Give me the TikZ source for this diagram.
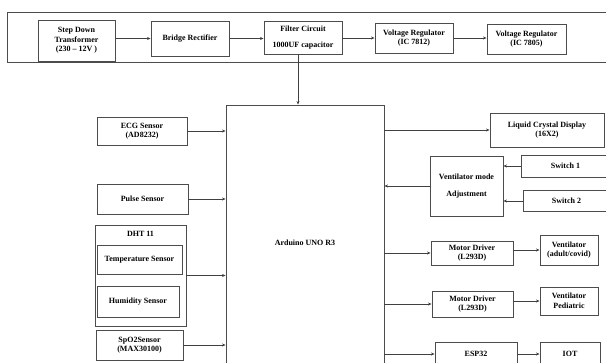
\documentclass[tikz,border=0pt]{standalone}
\usepackage{fontspec}
\setmainfont{Liberation Serif}
\usetikzlibrary{arrows.meta}
\begin{document}
\begin{tikzpicture}[x=1pt,y=-1pt,
  box/.style={draw=black!70,line width=0.9pt,rectangle,inner sep=0pt,align=center,
    font=\fontsize{8}{9.5}\selectfont\bfseries},
  conn/.style={draw=black!75,line width=0.8pt,-{Stealth[length=3.5pt,width=3pt]}}]
\useasboundingbox (0,0) rectangle (606,363);
\clip (0,0) rectangle (606,363);
% power supply frame
\node[box,minimum width=603,minimum height=50] (frame) at (308.5,37) {};
\node[box,minimum width=77,minimum height=41] (tr) at (76.5,40.5) {Step Down\\Transformer\\(230 -- 12V )};
\node[box,minimum width=78,minimum height=35] (br) at (190,38.5) {Bridge Rectifier};
\node[box,minimum width=78,minimum height=33] (fc) at (303,37.5) {Filter Circuit\\[7pt]1000UF capacitor};
\node[box,minimum width=78,minimum height=30] (vr1) at (414,38) {Voltage Regulator\\(IC 7812)};
\node[box,minimum width=79,minimum height=30] (vr2) at (526.5,39) {Voltage Regulator\\(IC 7805)};
\draw[conn] (tr.east |- br.west) -- (br.west);
\draw[conn] (br.east) -- (br.east -| fc.west);
\draw[conn] (fc.east |- vr1.west) -- (vr1.west);
\draw[conn] (vr1.east) -- (vr1.east -| vr2.west);
% Arduino
\node[box,minimum width=158,minimum height=275] (ard) at (305,242.5) {Arduino UNO R3};
\draw[conn] ([xshift=-5pt]fc.south) -- ([xshift=-5pt]fc.south |- ard.north);
% left sensors
\node[box,minimum width=90,minimum height=28] (ecg) at (142,131) {ECG Sensor\\(AD8232)};
\node[box,minimum width=91,minimum height=30] (pulse) at (142.5,199) {Pulse Sensor};
\node[box,minimum width=91,minimum height=101] (dht) at (140.5,275.5) {};
\node[font=\fontsize{8}{9.5}\selectfont\bfseries,inner sep=0pt] (dhtl) at (140.5,234) {DHT 11};
\node[box,minimum width=85,minimum height=29] (temp) at (139.5,259.5) {Temperature Sensor};
\node[box,minimum width=82,minimum height=31] (hum) at (138,301.5) {Humidity Sensor};
\node[box,minimum width=87,minimum height=30] (spo) at (139.5,345) {SpO2Sensor\\(MAX30100)};
\draw[conn] (ecg.east) -- (ecg.east -| ard.west);
\draw[conn] (pulse.east) -- (pulse.east -| ard.west);
\draw[conn] (dht.east) -- (dht.east -| ard.west);
\draw[conn] (spo.east) -- (spo.east -| ard.west);
% right side
\node[box,minimum width=114,minimum height=34] (lcd) at (547,130) {Liquid Crystal Display\\(16X2)};
\node[box,minimum width=73,minimum height=60] (vma) at (466.5,186) {Ventilator mode\\[8pt]Adjustment};
\node[box,minimum width=89,minimum height=22] (sw1) at (565.5,166) {Switch 1};
\node[box,minimum width=87,minimum height=21] (sw2) at (566.5,201) {Switch 2};
\node[box,minimum width=82,minimum height=24] (md1) at (472,253) {Motor Driver\\(L293D)};
\node[box,minimum width=58,minimum height=30] (v1) at (569,250) {Ventilator\\(adult/covid)};
\node[box,minimum width=81,minimum height=26] (md2) at (472.5,304) {Motor Driver\\(L293D)};
\node[box,minimum width=58,minimum height=28] (v2) at (569,301) {Ventilator\\Pediatric};
\node[box,minimum width=82,minimum height=24] (esp) at (476,354) {ESP32};
\node[box,minimum width=60,minimum height=24] (iot) at (570,354) {IOT};
\draw[conn] (lcd.west -| ard.east) -- (lcd.west);
\draw[conn] (vma.west) -- (vma.west -| ard.east);
\draw[conn] (sw1.west) -- (sw1.west -| vma.east);
\draw[conn] (sw2.west) -- (sw2.west -| vma.east);
\draw[conn] (md1.west -| ard.east) -- (md1.west);
\draw[conn] (md1.east |- v1.west) -- (v1.west);
\draw[conn] (md2.west -| ard.east) -- (md2.west);
\draw[conn] (md2.east |- v2.west) -- (v2.west);
\draw[conn] (esp.west -| ard.east) -- (esp.west);
\draw[conn] (esp.east) -- (esp.east -| iot.west);
\end{tikzpicture}
\end{document}
